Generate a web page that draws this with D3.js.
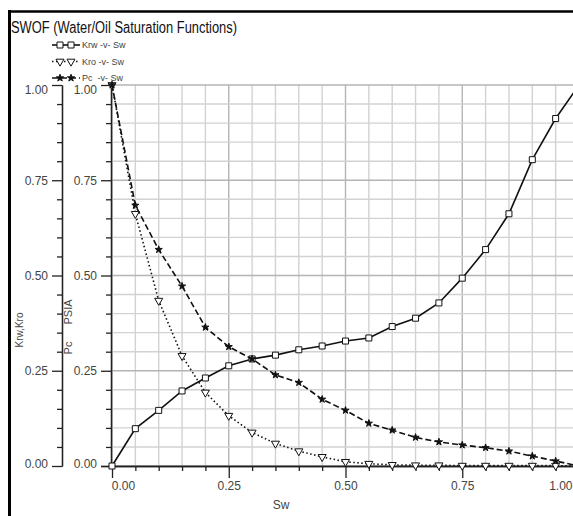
<!DOCTYPE html>
<html>
    <head>
        <meta charset="utf-8">
        <title>SWOF (Water/Oil Saturation Functions)</title>
        <script src="https://d3js.org/d3.v7.min.js"></script>
        <style>
            body { margin: 0; background: #fff; }
            text { font-family: "Liberation Sans", Arial, sans-serif; }
        </style>
    </head>
    <body>
        <svg width="573" height="516" id="chart"></svg>
        <script>
        // saturation points (Sw) and the three curves
        var sw  = [0.00, 0.05, 0.10, 0.15, 0.20, 0.25, 0.30, 0.35, 0.40, 0.45, 0.50,
                   0.55, 0.60, 0.65, 0.70, 0.75, 0.80, 0.85, 0.90, 0.95, 1.00];
        var krw = [0.000, 0.098, 0.146, 0.197, 0.231, 0.263, 0.281, 0.291, 0.305, 0.315, 0.328,
                   0.336, 0.366, 0.388, 0.428, 0.493, 0.568, 0.662, 0.804, 0.912, 1.000];
        var kro = [1.000, 0.662, 0.434, 0.289, 0.193, 0.132, 0.088, 0.059, 0.039, 0.024, 0.011,
                   0.006, 0.003, 0.002, 0.002, 0.001, 0.001, 0.001, 0.001, 0.001, 0.000];
        var pc  = [1.000, 0.684, 0.568, 0.472, 0.364, 0.313, 0.281, 0.239, 0.219, 0.175, 0.146,
                   0.112, 0.094, 0.075, 0.063, 0.055, 0.048, 0.039, 0.026, 0.013, 0.000];

        var majorTicks = [0, 0.25, 0.5, 0.75, 1.0];
        var minorTicks = [0.05, 0.10, 0.15, 0.20, 0.30, 0.35, 0.40, 0.45, 0.55, 0.60,
                          0.65, 0.70, 0.80, 0.85, 0.90, 0.95];
        var seriesNames = ["Krw -v- Sw", "Kro -v- Sw", "Pc  -v- Sw"];

        var svg = d3.select("#chart");
        var W = 573, H = 516;

        var x = d3.scaleLinear().domain([0, 1]).range([112, 579]);
        var y = d3.scaleLinear().domain([0, 1]).range([466, 85]);
        var fmt = d3.format(".2f");

        svg.append("rect").attr("width", W).attr("height", H).attr("fill", "#fff");

        // frame: top and left border
        svg.append("line").attr("x1", 8).attr("x2", W).attr("y1", 11.5).attr("y2", 11.5)
            .attr("stroke", "#000").attr("stroke-width", 2.5);
        svg.append("line").attr("x1", 9.5).attr("x2", 9.5).attr("y1", 10).attr("y2", H)
            .attr("stroke", "#000").attr("stroke-width", 3);

        svg.append("text")
            .attr("x", 11).attr("y", 33)
            .attr("textLength", 226).attr("lengthAdjust", "spacingAndGlyphs")
            .style("font-size", "16px").style("fill", "#111")
            .text("SWOF (Water/Oil Saturation Functions)");

        // grid
        var grid = svg.append("g");
        var allTicks = majorTicks.concat(minorTicks);
        grid.selectAll(".vg").data(allTicks).enter().append("line")
            .attr("x1", d => x(d)).attr("x2", d => x(d))
            .attr("y1", y(0)).attr("y2", y(1))
            .attr("stroke", d => majorTicks.indexOf(d) >= 0 ? "#b4b4b4" : "#d2d2d2")
            .attr("stroke-width", 1.4);
        grid.selectAll(".hg").data(allTicks).enter().append("line")
            .attr("x1", x(0)).attr("x2", W)
            .attr("y1", d => y(d)).attr("y2", d => y(d))
            .attr("stroke", d => majorTicks.indexOf(d) >= 0 ? "#b4b4b4" : "#d2d2d2")
            .attr("stroke-width", 1.4);

        function styleAxis(g) {
            g.selectAll("path, line").attr("stroke", "#222").attr("stroke-width", 1.3);
            g.selectAll("text").style("font-size", "12px").style("fill", "#444")
                .style("font-family", "Liberation Sans, Arial, sans-serif");
        }

        // two left axes: Krw,Kro and Pc
        [62, 111].forEach(function(px) {
            var gMinor = svg.append("g").attr("transform", "translate(" + px + ",0)")
                .call(d3.axisLeft(y).tickValues(minorTicks).tickSize(5).tickSizeOuter(0).tickFormat(""));
            styleAxis(gMinor);
            var g = svg.append("g").attr("transform", "translate(" + px + ",0)")
                .call(d3.axisLeft(y).tickValues(majorTicks).tickSize(10).tickSizeOuter(0)
                    .tickPadding(4).tickFormat(fmt));
            styleAxis(g);
            g.selectAll(".tick text").attr("dy", function(d) {
                if (d == 1) return "0.7em";
                if (d == 0) return "0.1em";
                return "0.35em";
            });
        });

        // x axis
        var gxMinor = svg.append("g").attr("transform", "translate(0," + y(0) + ")")
            .call(d3.axisBottom(x).tickValues(minorTicks).tickSize(5).tickSizeOuter(0).tickFormat(""));
        styleAxis(gxMinor);
        var gx = svg.append("g").attr("transform", "translate(0," + y(0) + ")")
            .call(d3.axisBottom(x).tickValues(majorTicks).tickSize(12).tickSizeOuter(0)
                .tickPadding(3).tickFormat(fmt));
        styleAxis(gx);
        gx.select(".domain").attr("d", "M101,0.5H" + W);
        // first label sits right of its tick, last one is pulled in from the edge
        gx.selectAll(".tick text")
            .attr("dx", d => d == 0 ? 11 : 0)
            .attr("text-anchor", d => d == 1 ? "end" : "middle")
            .attr("x", d => d == 1 ? W - x(1) - 1 : 0);

        // axis titles
        svg.append("text").attr("transform", "translate(23,330) rotate(-90)")
            .attr("text-anchor", "middle").style("font-size", "10px").style("fill", "#444")
            .text("Krw,Kro");
        svg.append("text").attr("transform", "translate(72,348) rotate(-90)")
            .attr("text-anchor", "middle").style("font-size", "11px").style("fill", "#444")
            .text("Pc");
        svg.append("text").attr("transform", "translate(72,312) rotate(-90)")
            .attr("text-anchor", "middle").style("font-size", "11px").style("fill", "#444")
            .text("PSIA");
        svg.append("text").attr("x", 281).attr("y", 509)
            .attr("text-anchor", "middle").style("font-size", "12px").style("fill", "#444")
            .text("Sw");

        // curves
        var series = [
            { name: seriesNames[0], values: krw, dash: null,  sym: d3.symbolSquare,   size: 36, fill: "#fff", rot: 0 },
            { name: seriesNames[1], values: kro, dash: "1.5,2.5", sym: d3.symbolTriangle, size: 28, fill: "#fff", rot: 180 },
            { name: seriesNames[2], values: pc,  dash: "6,3", sym: d3.symbolStar,     size: 16, fill: "#111", rot: 0 }
        ];

        var line = d3.line().x((d, i) => x(sw[i])).y(d => y(d));

        series.forEach(function(s) {
            svg.append("path")
                .attr("d", line(s.values))
                .attr("fill", "none")
                .attr("stroke", "#111")
                .attr("stroke-width", 1.6)
                .attr("stroke-dasharray", s.dash);
            svg.selectAll(null).data(s.values).enter().append("path")
                .attr("d", d3.symbol().type(s.sym).size(s.size))
                .attr("transform", (d, i) => "translate(" + x(sw[i]) + "," + y(d) + ") rotate(" + s.rot + ")")
                .attr("fill", s.fill)
                .attr("stroke", "#111")
                .attr("stroke-width", 1);
        });

        // legend
        var legendY = [45, 61.5, 78];
        series.forEach(function(s, i) {
            var ly = legendY[i];
            svg.append("line").attr("x1", 52).attr("x2", 80).attr("y1", ly).attr("y2", ly)
                .attr("stroke", "#111").attr("stroke-width", 1.6).attr("stroke-dasharray", s.dash);
            [60, 71].forEach(function(mx) {
                svg.append("path")
                    .attr("d", d3.symbol().type(s.sym).size(s.size))
                    .attr("transform", "translate(" + mx + "," + ly + ") rotate(" + s.rot + ")")
                    .attr("fill", s.fill).attr("stroke", "#111").attr("stroke-width", 1);
            });
            svg.append("text").attr("x", 82).attr("y", ly + 3)
                .style("font-size", "9px").style("fill", "#444")
                .attr("xml:space", "preserve")
                .text(s.name);
        });
        </script>
    </body>
</html>
